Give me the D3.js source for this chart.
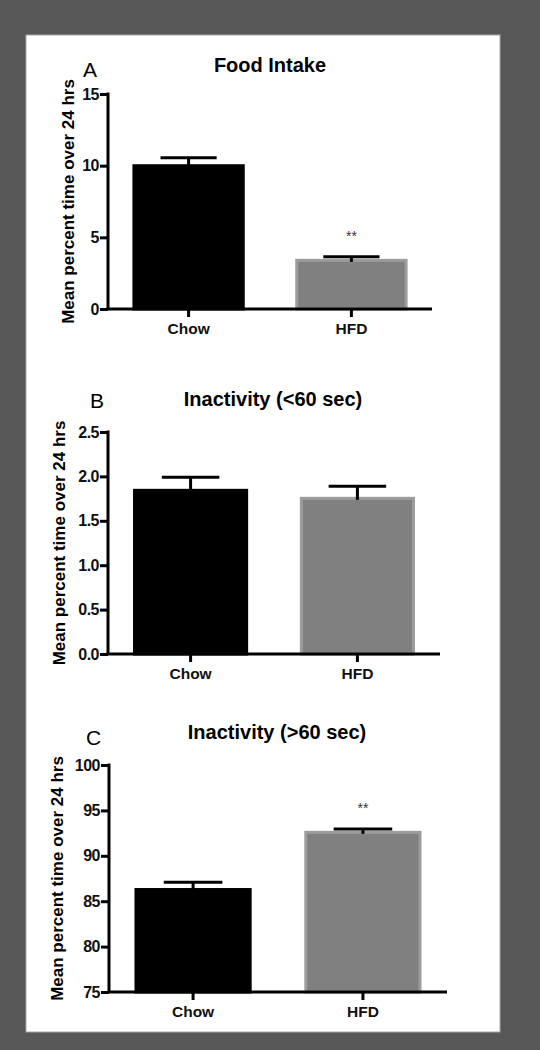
<!DOCTYPE html>
<html><head><meta charset="utf-8">
<script src="https://cdn.jsdelivr.net/npm/d3@7"></script>
<style>
html,body{margin:0;padding:0;background:#575757;}
svg{display:block;}
text{font-family:"Liberation Sans",Arial,sans-serif;}
</style></head>
<body>
<script>
// ---- data ----
const categories = ["Chow", "HFD"];
const panelLetters = ["A", "B", "C"];
const panelTitles = ["Food Intake", "Inactivity (<60 sec)", "Inactivity (>60 sec)"];
const foodIntakeMeans = [10.1, 3.5];
const foodIntakeErr = [0.45, 0.15];
const inactShortMeans = [1.86, 1.77];
const inactShortErr = [0.13, 0.12];
const inactLongMeans = [86.45, 92.75];
const inactLongErr = [0.65, 0.2];
const yDomains = [[0, 15], [0, 2.5], [75, 100]];
const yTicksA = [0, 5, 10, 15];
const yTicksB = [0, 0.5, 1.0, 1.5, 2.0, 2.5];
const yTicksC = [75, 80, 85, 90, 95, 100];
const significance = [["", "**"], ["", ""], ["", "**"]];
const yLabel = "Mean percent time over 24 hrs";

// ---- layout ----
const W = 540, H = 1050;
const svg = d3.select("body").append("svg").attr("width", W).attr("height", H);
svg.append("rect").attr("x", 0).attr("y", 0).attr("width", W).attr("height", H).attr("fill", "#575757");
svg.append("rect").attr("x", 26).attr("y", 35).attr("width", 474).attr("height", 997)
  .attr("fill", "#fff").attr("stroke", "#a8a8a8").attr("stroke-width", 1);

const layouts = [
  {x0: 108, x1: 432, yTop: 94, yBot: 309, titleX: 270, titleY: 72, letterX: 83, letterY: 77, labelX: 68, tickFmt: d3.format("d")},
  {x0: 108, x1: 440, yTop: 432, yBot: 654, titleX: 273, titleY: 406, letterX: 90, letterY: 408, labelX: 59, tickFmt: d3.format(".1f")},
  {x0: 109, x1: 447, yTop: 765, yBot: 992, titleX: 277, titleY: 739, letterX: 86, letterY: 745, labelX: 57, tickFmt: d3.format("d")}
];
const meansAll = [foodIntakeMeans, inactShortMeans, inactLongMeans];
const errAll = [foodIntakeErr, inactShortErr, inactLongErr];
const ticksAll = [yTicksA, yTicksB, yTicksC];
const fills = ["#000000", "#808080"];
const strokes = ["#000000", "#9c9c9c"];

layouts.forEach((L, i) => {
  const g = svg.append("g");
  const x = d3.scaleBand().domain(categories).range([L.x0, L.x1]).paddingInner(0.31).paddingOuter(0.15);
  const y = d3.scaleLinear().domain(yDomains[i]).range([L.yBot, L.yTop]);
  const bw = x.bandwidth();

  // bars
  const data = categories.map((c, j) => ({c, v: meansAll[i][j], e: errAll[i][j], j}));
  g.selectAll("rect.bar").data(data).enter().append("rect")
    .attr("x", d => x(d.c) + 1.5)
    .attr("y", d => y(d.v) + 1.5)
    .attr("width", bw - 3)
    .attr("height", d => y(yDomains[i][0]) - y(d.v) - 1.5)
    .attr("fill", d => fills[d.j])
    .attr("stroke", d => strokes[d.j])
    .attr("stroke-width", 3);

  // error bars (upper only)
  g.selectAll("line.err").data(data).enter().append("line")
    .attr("x1", d => x(d.c) + bw / 2).attr("x2", d => x(d.c) + bw / 2)
    .attr("y1", d => y(d.v) + 3).attr("y2", d => y(d.v + d.e))
    .attr("stroke", "#000").attr("stroke-width", 3);
  g.selectAll("line.cap").data(data).enter().append("line")
    .attr("x1", d => x(d.c) + bw / 4).attr("x2", d => x(d.c) + bw * 3 / 4)
    .attr("y1", d => y(d.v + d.e)).attr("y2", d => y(d.v + d.e))
    .attr("stroke", "#000").attr("stroke-width", 3);

  // significance
  g.selectAll("text.sig").data(data.filter(d => significance[i][d.j])).enter().append("text")
    .attr("x", d => x(d.c) + bw / 2).attr("y", d => y(d.v + d.e) - 16)
    .attr("text-anchor", "middle").attr("font-size", 14).attr("fill", "#333")
    .text(d => significance[i][d.j]);

  // y axis
  const yAxis = d3.axisLeft(y).tickValues(ticksAll[i]).tickFormat(L.tickFmt).tickSize(8).tickPadding(1).tickSizeOuter(0);
  const ya = g.append("g").attr("transform", `translate(${L.x0},0)`).call(yAxis);
  ya.select(".domain").attr("stroke", "#000").attr("stroke-width", 3)
    .attr("d", `M0,${L.yTop - 1.5}V${L.yBot}`);
  ya.selectAll(".tick line").attr("stroke", "#000").attr("stroke-width", 3);
  ya.selectAll(".tick text").attr("font-size", 16).attr("font-weight", "bold").attr("fill", "#111")
    .attr("letter-spacing", -0.5).attr("font-family", "Liberation Sans, Arial, sans-serif");

  // x axis
  const xAxis = d3.axisBottom(x).tickSize(8).tickPadding(6).tickSizeOuter(0);
  const xa = g.append("g").attr("transform", `translate(0,${L.yBot})`).call(xAxis);
  xa.select(".domain").attr("stroke", "#000").attr("stroke-width", 3)
    .attr("d", `M${L.x0 - 1.5},0H${L.x1}`);
  xa.selectAll(".tick line").attr("stroke", "#000").attr("stroke-width", 3);
  xa.selectAll(".tick text").attr("font-size", 15.5).attr("font-weight", "bold").attr("fill", "#111")
    .attr("font-family", "Liberation Sans, Arial, sans-serif");

  // y label
  g.append("text")
    .attr("transform", `translate(${L.labelX},${(L.yTop + L.yBot) / 2}) rotate(-90)`)
    .attr("text-anchor", "middle").attr("dy", "0.35em")
    .attr("font-size", 17).attr("font-weight", "bold").attr("fill", "#000")
    .text(yLabel);

  // title and letter
  g.append("text").attr("x", L.titleX).attr("y", L.titleY).attr("text-anchor", "middle")
    .attr("font-size", 20).attr("font-weight", "bold").attr("fill", "#000").text(panelTitles[i]);
  g.append("text").attr("x", L.letterX).attr("y", L.letterY)
    .attr("font-size", 21).attr("fill", "#000").text(panelLetters[i]);
});
</script>
</body></html>
